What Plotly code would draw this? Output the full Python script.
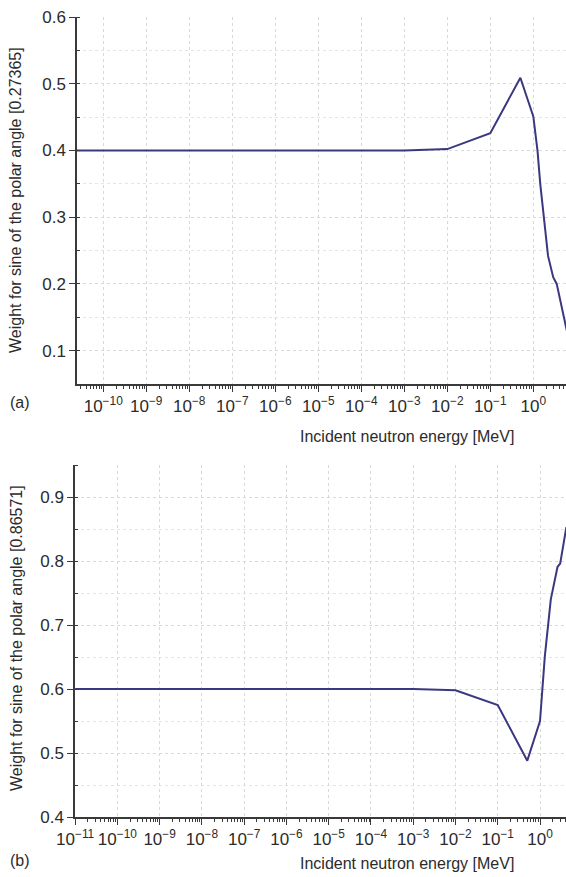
import plotly.graph_objects as go

# ---------------- data ----------------
energy_a = [1e-11, 1e-3, 1e-2, 1e-1, 0.5, 1.0, 1.25, 1.45, 2.2, 2.9, 3.5, 6.0]
weight_a = [0.400, 0.400, 0.402, 0.426, 0.509, 0.451, 0.400, 0.350, 0.242, 0.210, 0.200, 0.130]

energy_b = [1e-11, 1e-3, 1e-2, 1e-1, 0.5, 1.0, 1.3, 1.8, 2.6, 3.0, 4.2]
weight_b = [0.600, 0.600, 0.598, 0.575, 0.488, 0.550, 0.651, 0.740, 0.791, 0.796, 0.853]

decade_exponents = list(range(-11, 1))
tick_vals = [10.0 ** p for p in decade_exponents]
tick_text = ["10<sup>" + ("\u2212" if p < 0 else "") + str(abs(p)) + "</sup>" for p in decade_exponents]
minor_vals = [m * 10.0 ** p for p in range(-12, 1) for m in range(2, 10)]

x_title = "Incident neutron energy [MeV]"
y_title_a = "Weight for sine of the polar angle [0.27365]"
y_title_b = "Weight for sine of the polar angle [0.86571]"

# ---------------- layout geometry ----------------
W, H = 566, 877
FONT = "Liberation Sans, Arial, sans-serif"
TXT = "#2b2b2b"
AX = "#3a3a3a"
GRID = "#d9d9d9"
GRID_MINOR = "#e4e4e4"
LINE = "#3b3880"
TICK_SIZE = 17
TITLE_SIZE = 16


def px(x):
    return x / W


def py(y):
    return 1 - y / H


fig = go.Figure()
fig.add_trace(go.Scatter(x=energy_a, y=weight_a, mode="lines",
                         line=dict(color=LINE, width=2), xaxis="x", yaxis="y",
                         showlegend=False, cliponaxis=True))
fig.add_trace(go.Scatter(x=energy_b, y=weight_b, mode="lines",
                         line=dict(color=LINE, width=2), xaxis="x2", yaxis="y2",
                         showlegend=False, cliponaxis=True))

common_x = dict(
    type="log", tickmode="array", tickvals=tick_vals, ticktext=tick_text,
    showline=True, linecolor=AX, linewidth=1.5, mirror=False, automargin=False,
    ticks="outside", ticklen=6, tickwidth=1.2, tickcolor=AX,
    tickfont=dict(family=FONT, size=TICK_SIZE, color=TXT),
    showgrid=True, gridcolor=GRID, griddash="dot", gridwidth=1,
    zeroline=False,
    minor=dict(tickmode="array", tickvals=minor_vals, ticks="outside",
               ticklen=3, tickwidth=1, tickcolor=AX, showgrid=False),
)
common_y = dict(
    showline=True, linecolor=AX, linewidth=1.5, mirror=False, automargin=False,
    ticks="outside", ticklen=6, tickwidth=1.2, tickcolor=AX,
    tickfont=dict(family=FONT, size=TICK_SIZE, color=TXT),
    showgrid=True, gridcolor=GRID, griddash="dot", gridwidth=1,
    zeroline=False, dtick=0.1, tick0=0,
    minor=dict(dtick=0.05, ticks="inside", ticklen=3, tickwidth=1,
               tickcolor=AX, showgrid=True, gridcolor=GRID_MINOR,
               griddash="dot"),
)

fig.update_layout(
    template="none",
    width=W, height=H,
    margin=dict(l=0, r=0, t=0, b=0, autoexpand=False),
    paper_bgcolor="white", plot_bgcolor="white",
    font=dict(family=FONT, color=TXT, size=TITLE_SIZE),
    xaxis=dict(common_x, domain=[px(77), 1], anchor="y",
               range=[-10.61, 0.76]),
    yaxis=dict(common_y, domain=[py(384), py(17)], anchor="x",
               range=[0.05, 0.6 + 1e-9]),
    xaxis2=dict(common_x, domain=[px(75), 1], anchor="y2",
                range=[-11.003, 0.615]),
    yaxis2=dict(common_y, domain=[py(817), py(465)], anchor="x2",
                range=[0.4 - 1e-9, 0.95]),
)

annotations = [
    dict(text=y_title_a, x=px(16), y=py(200), textangle=-90),
    dict(text=y_title_b, x=px(16), y=py(638), textangle=-90),
    dict(text=x_title, x=px(407), y=py(436)),
    dict(text=x_title, x=px(407), y=py(863)),
    dict(text="(a)", x=px(20), y=py(402)),
    dict(text="(b)", x=px(20), y=py(860)),
]
for a in annotations:
    a.update(xref="paper", yref="paper", xanchor="center", yanchor="middle",
             showarrow=False, font=dict(family=FONT, size=TITLE_SIZE, color=TXT))
fig.update_layout(annotations=annotations)

fig.write_html("out.html")
